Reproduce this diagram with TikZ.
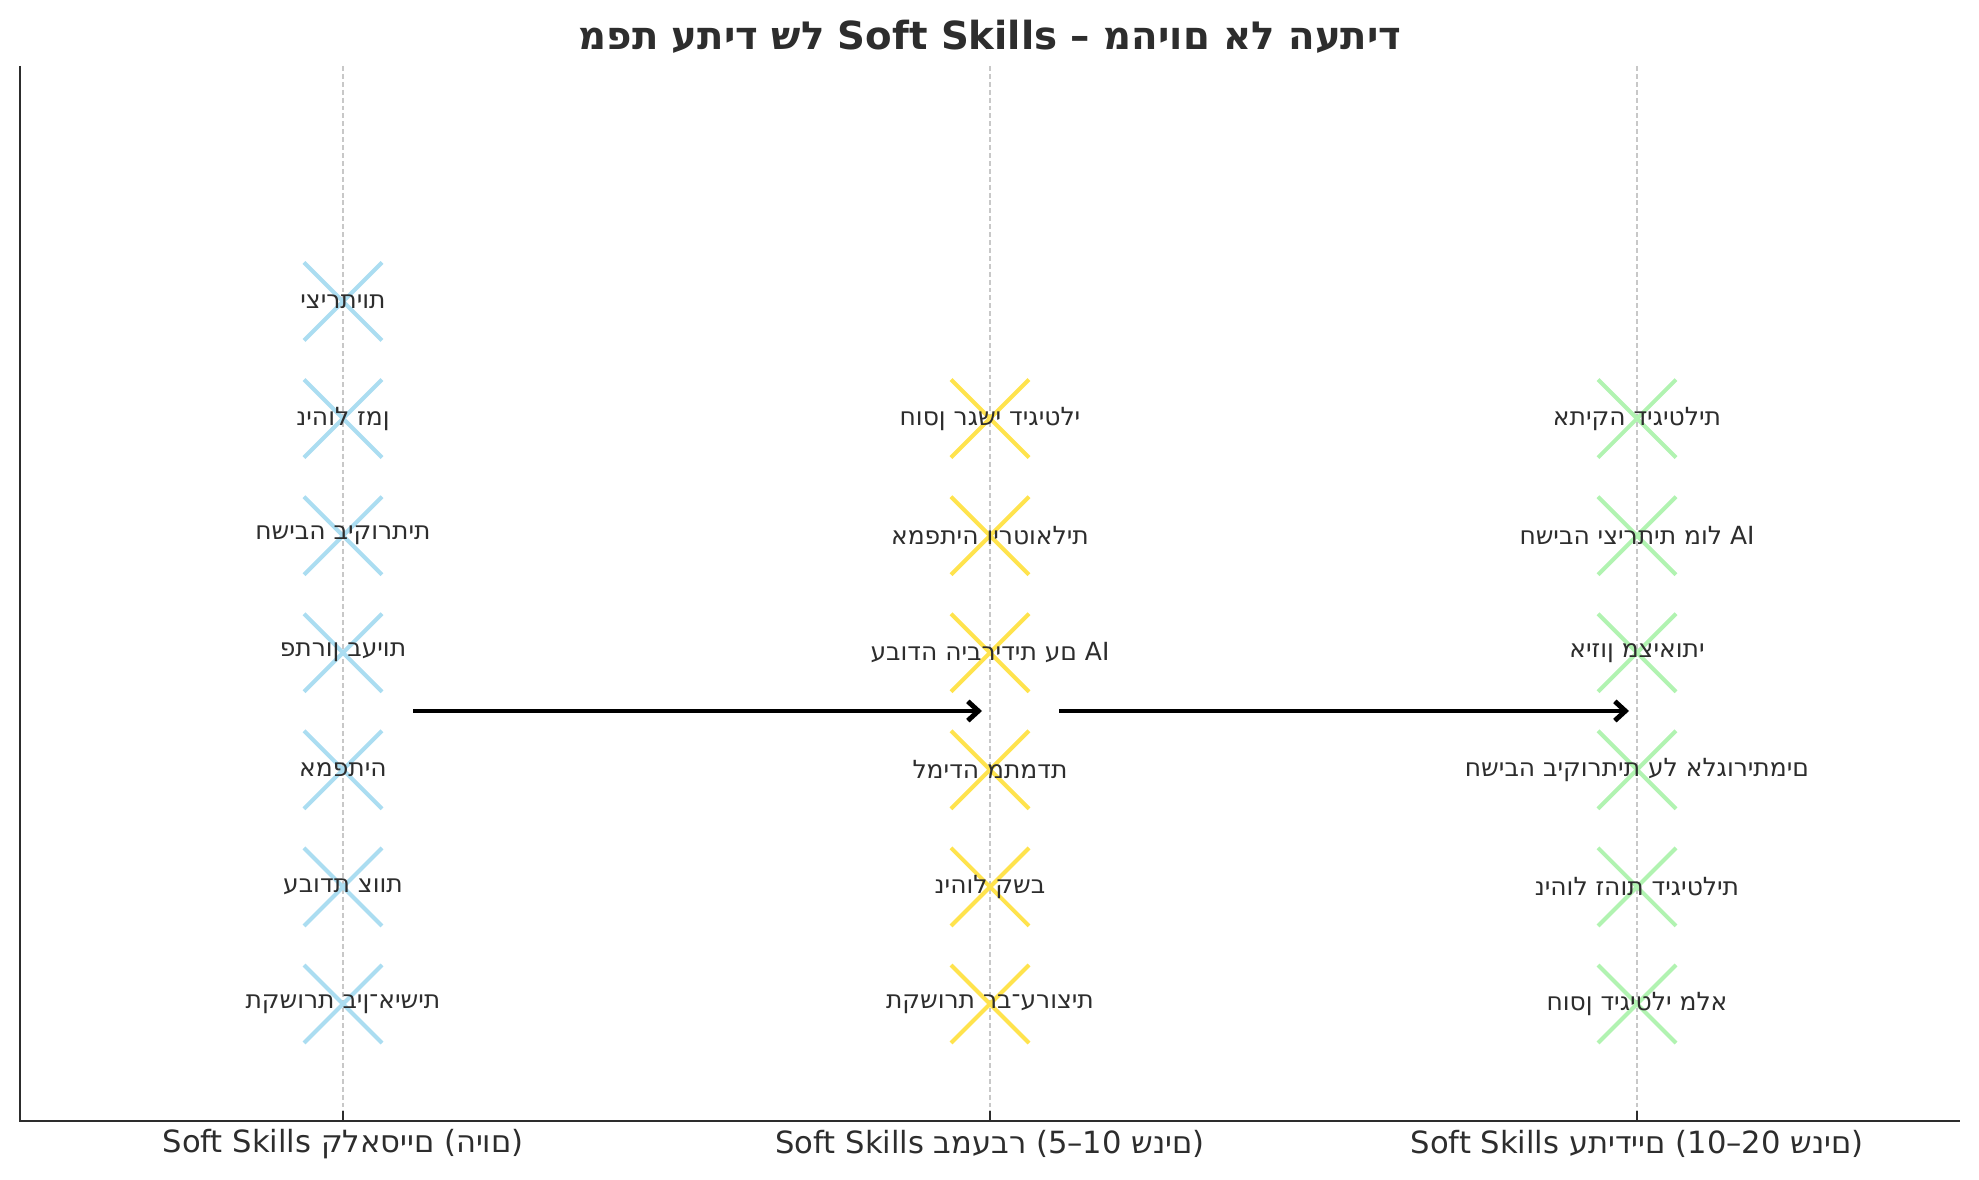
\documentclass[tikz,border=0pt]{standalone}
\usepackage{fontspec}
\setmainfont{DejaVu Sans}
\newfontfamily\heb[Script=Hebrew]{DejaVu Sans}
\newfontfamily\hebb[Script=Hebrew]{DejaVu Sans Bold}
\usetikzlibrary{arrows.meta}
\definecolor{xblue}{RGB}{171,221,241}
\definecolor{xyellow}{RGB}{255,227,77}
\definecolor{xgreen}{RGB}{177,243,177}
\definecolor{gridc}{RGB}{200,200,200}
\definecolor{txt}{RGB}{45,45,45}
\makeatletter
% letters set one by one, left to right, as the picture prints them
\newcommand\lw[1]{{\heb\@tfor\lwch:=#1\do{\hbox{\lwch}}}}
\newcommand\lwb[1]{{\hebb\@tfor\lwch:=#1\do{\hbox{\lwch}}}}
\makeatother
\tikzset{
  lbl/.style={font=\fontsize{7.1}{8}\selectfont, text=txt, inner sep=0pt},
  ticklbl/.style={font=\fontsize{8.7}{10}\selectfont, text=txt, inner sep=0pt},
  ttl/.style={font=\bfseries\fontsize{11}{13}\selectfont, text=txt, inner sep=0pt},
  cross/.style={line width=1.15pt},
  gridln/.style={draw=gridc, line width=0.38pt, dash pattern=on 1.4pt off 0.85pt},
  spine/.style={line width=0.77pt, draw=txt},
  flow/.style={line width=1.4pt, -{Straight Barb[length=3pt,width=5.5pt]}},
}
\begin{document}
\begin{tikzpicture}[x=0.01cm,y=-0.01cm]
\useasboundingbox (0,0) rectangle (1979,1180);
% grid lines
\foreach \cx in {343,990,1637} {
  \draw[gridln] (\cx,66) -- (\cx,1121);
  \draw[spine,line width=0.6pt] (\cx,1121) -- (\cx,1111);
}
% spines
\draw[spine] (20,66) -- (20,1121) -- (1960,1121);
% cross markers
\foreach \ry in {301.5,418.6,535.7,652.75,769.8,886.9,1004} {
  \draw[cross,xblue] (343-39,\ry-39) -- (343+39,\ry+39) (343-39,\ry+39) -- (343+39,\ry-39);
}
\foreach \ry in {418.6,535.7,652.75,769.8,886.9,1004} {
  \draw[cross,xyellow] (990-39,\ry-39) -- (990+39,\ry+39) (990-39,\ry+39) -- (990+39,\ry-39);
  \draw[cross,xgreen] (1637-39,\ry-39) -- (1637+39,\ry+39) (1637-39,\ry+39) -- (1637+39,\ry-39);
}
% column 1
\node[lbl] (c1r1) at (343,301.5) {\lw{יצירתיות}};
\node[lbl] (c1r2) at (343,418.6) {\lw{ניהול} \lw{זמן}};
\node[lbl] (c1r3) at (343,535.7) {\lw{חשיבה} \lw{ביקורתית}};
\node[lbl] (c1r4) at (343,652.75) {\lw{פתרון} \lw{בעיות}};
\node[lbl] (c1r5) at (343,769.8) {\lw{אמפתיה}};
\node[lbl] (c1r6) at (343,886.9) {\lw{עבודת} \lw{צוות}};
\node[lbl] (c1r7) at (343,1004) {\lw{תקשורת} \lw{בין־אישית}};
% column 2
\node[lbl] (c2r2) at (990,418.6) {\lw{חוסן} \lw{רגשי} \lw{דיגיטלי}};
\node[lbl] (c2r3) at (990,535.7) {\lw{אמפתיה} \lw{וירטואלית}};
\node[lbl] (c2r4) at (990,652.75) {\lw{עבודה} \lw{היברידית} \lw{עם} AI};
\node[lbl] (c2r5) at (990,769.8) {\lw{למידה} \lw{מתמדת}};
\node[lbl] (c2r6) at (990,886.9) {\lw{ניהול} \lw{קשב}};
\node[lbl] (c2r7) at (990,1004) {\lw{תקשורת} \lw{רב־ערוצית}};
% column 3
\node[lbl] (c3r2) at (1637,418.6) {\lw{אתיקה} \lw{דיגיטלית}};
\node[lbl] (c3r3) at (1637,535.7) {\lw{חשיבה} \lw{יצירתית} \lw{מול} AI};
\node[lbl] (c3r4) at (1637,652.75) {\lw{איזון} \lw{מציאותי}};
\node[lbl] (c3r5) at (1637,769.8) {\lw{חשיבה} \lw{ביקורתית} \lw{על} \lw{אלגוריתמים}};
\node[lbl] (c3r6) at (1637,886.9) {\lw{ניהול} \lw{זהות} \lw{דיגיטלית}};
\node[lbl] (c3r7) at (1637,1004) {\lw{חוסן} \lw{דיגיטלי} \lw{מלא}};
% arrows
\coordinate (a1s) at (413,711);
\coordinate (a1e) at (982,711);
\coordinate (a2s) at (1059,711);
\coordinate (a2e) at (1629,711);
\draw[flow] (a1s) -- (a1e);
\draw[flow] (a2s) -- (a2e);
% tick labels
\node[ticklbl] (t1) at (343,1144) {Soft Skills \lw{קלאסיים} (\lw{היום})};
\node[ticklbl] (t2) at (990,1144) {Soft Skills \lw{במעבר} (5–10 \lw{שנים})};
\node[ticklbl] (t3) at (1637,1144) {Soft Skills \lw{עתידיים} (10–20 \lw{שנים})};
% title
\node[ttl] (title) at (990,37) {\lwb{מפת} \lwb{עתיד} \lwb{של} Soft Skills – \lwb{מהיום} \lwb{אל} \lwb{העתיד}};
\end{tikzpicture}
\end{document}
